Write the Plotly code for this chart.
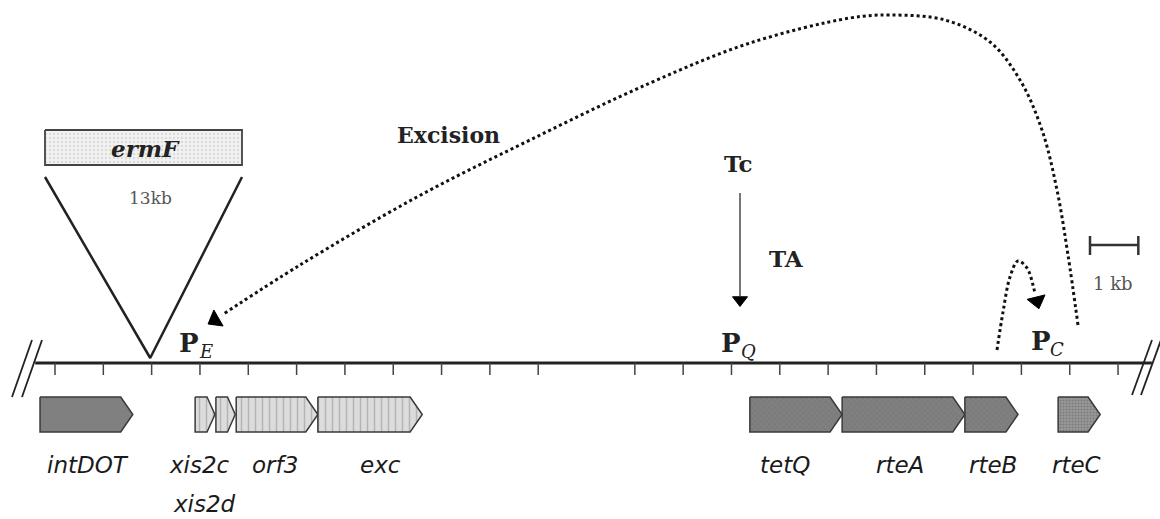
import plotly.graph_objects as go

# ---------------- data (kb coordinates) ----------------
gene_names = ["intDOT", "xis2c", "xis2d", "orf3", "exc", "tetQ", "rteA", "rteB", "rteC"]
gene_start = [-0.31, 2.90, 3.33, 3.75, 5.44, 14.38, 16.29, 18.83, 20.76]
gene_end = [1.61, 3.31, 3.73, 5.44, 7.60, 16.29, 18.83, 19.93, 21.63]
gene_style = ["solid", "striped", "striped", "striped", "striped", "hatched", "hatched", "hatched", "dotted"]
label_x = [0.68, 3.00, 3.10, 4.55, 6.73, 15.10, 17.49, 19.41, 21.15]
label_row = [0, 0, 1, 0, 0, 0, 0, 0, 0]

tick_kb = [i for i in range(23) if i != 11]
map_start_kb, map_end_kb = -0.41, 22.70
insertion_kb = 1.97
promoter_names = ["E", "Q", "C"]
promoter_kb = [3.02, 14.24, 20.65]
scale_bar_kb = 1.0

# ---------------- helpers ----------------
KB_PX = 48.32
X0_PX = 55.0


def kb(px):
    return (px - X0_PX) / KB_PX


BASE_Y = 363
GENE_TOP, GENE_BOT = 397, 432
GENE_MID = (GENE_TOP + GENE_BOT) / 2
DARK = "#222222"
SERIF = "DejaVu Serif"
SANS = "DejaVu Sans"

fig = go.Figure()

# gene arrows
styles = {
    "solid": dict(fillcolor="#808080", fillpattern=None),
    "striped": dict(fillcolor="#d9d9d9",
                    fillpattern=dict(shape="|", bgcolor="#dcdcdc", fgcolor="#8c8c8c", size=7, solidity=0.22)),
    "hatched": dict(fillcolor="#7e7e7e",
                    fillpattern=dict(shape="x", bgcolor="#808080", fgcolor="#6c6c6c", size=4, solidity=0.3)),
    "dotted": dict(fillcolor="#929292",
                   fillpattern=dict(shape=".", bgcolor="#999999", fgcolor="#5e5e5e", size=3, solidity=0.4)),
}
for name, s, e, st in zip(gene_names, gene_start, gene_end, gene_style):
    h = min(0.25, 0.4 * (e - s))
    xs = [s, e - h, e, e - h, s, s]
    ys = [GENE_TOP, GENE_TOP, GENE_MID, GENE_BOT, GENE_BOT, GENE_TOP]
    kw = dict(x=xs, y=ys, mode="lines", fill="toself", fillcolor=styles[st]["fillcolor"],
              line=dict(color="#3a3a3a", width=1.5), hoverinfo="text", text=name, showlegend=False)
    if styles[st]["fillpattern"]:
        kw["fillpattern"] = styles[st]["fillpattern"]
    fig.add_trace(go.Scatter(**kw))

# baseline
fig.add_trace(go.Scatter(x=[map_start_kb, map_end_kb], y=[BASE_Y, BASE_Y], mode="lines",
                         line=dict(color=DARK, width=2.8), showlegend=False, hoverinfo="skip"))
# ticks
tx, ty = [], []
for t in tick_kb:
    tx += [t, t, None]
    ty += [BASE_Y, BASE_Y + 12, None]
fig.add_trace(go.Scatter(x=tx, y=ty, mode="lines", line=dict(color="#444", width=1.5),
                         showlegend=False, hoverinfo="skip"))

# break marks
bx, by = [], []
for (x1, y1, x2, y2) in [(32, 340, 12, 397), (42, 340, 22, 397),
                         (1152, 340, 1132, 395), (1161, 340, 1141, 395)]:
    bx += [kb(x1), kb(x2), None]
    by += [y1, y2, None]
fig.add_trace(go.Scatter(x=bx, y=by, mode="lines", line=dict(color=DARK, width=1.8),
                         showlegend=False, hoverinfo="skip"))

# ermF insertion V
fig.add_trace(go.Scatter(x=[kb(45), insertion_kb, kb(242)], y=[177, 358, 177], mode="lines",
                         line=dict(color=DARK, width=2.5), showlegend=False, hoverinfo="skip"))
# ermF box
bx0, bx1 = kb(45), kb(242)
fig.add_trace(go.Scatter(x=[bx0, bx1, bx1, bx0, bx0], y=[130, 130, 165, 165, 130], mode="lines",
                         fill="toself", fillcolor="#efefef",
                         fillpattern=dict(shape=".", bgcolor="#f2f2f2", fgcolor="#c4c4c4", size=4, solidity=0.3),
                         line=dict(color="#444", width=1.8), showlegend=False, hoverinfo="skip"))

# excision dotted curve
exc_px = [(1078, 325), (1068, 255), (1057, 190), (1042, 130), (1020, 80), (990, 42), (945, 20),
          (890, 15), (850, 18), (750, 43), (650, 83), (530, 140), (417, 197), (300, 265), (222, 315)]
fig.add_trace(go.Scatter(x=[kb(p[0]) for p in exc_px], y=[p[1] for p in exc_px], mode="lines",
                         line=dict(color="#111", width=3, dash="3px,3px", shape="spline", smoothing=1),
                         showlegend=False, hoverinfo="skip"))
# small rteC loop
loop_px = [(997, 350), (1003, 312), (1010, 277), (1018, 261), (1027, 268), (1033, 285), (1035, 294)]
fig.add_trace(go.Scatter(x=[kb(p[0]) for p in loop_px], y=[p[1] for p in loop_px], mode="lines",
                         line=dict(color="#111", width=3, dash="3px,3px", shape="spline", smoothing=1),
                         showlegend=False, hoverinfo="skip"))

# Tc -> PQ arrow shaft
fig.add_trace(go.Scatter(x=[kb(740), kb(740)], y=[193, 296], mode="lines",
                         line=dict(color="#555", width=1.6), showlegend=False, hoverinfo="skip"))

# arrowheads (triangles rotated along direction)
head_px = [(215, 320), (1037, 301), (740, 300)]
head_angle = [240, 166, 180]
fig.add_trace(go.Scatter(x=[kb(p[0]) for p in head_px], y=[p[1] for p in head_px], mode="markers",
                         marker=dict(symbol="triangle-up", size=[16, 16, 13], angle=head_angle,
                                     color="#000000", opacity=1, line=dict(width=1, color="#000000")),
                         showlegend=False, hoverinfo="skip"))

# scale bar
sx0 = kb(1090)
sx1 = sx0 + scale_bar_kb
fig.add_trace(go.Scatter(x=[sx0, sx1, None, sx0, sx0, None, sx1, sx1],
                         y=[245, 245, None, 236, 255, None, 236, 255], mode="lines",
                         line=dict(color="#333", width=2.5), showlegend=False, hoverinfo="skip"))

annotations = []


def txt(x, y, text, size, color=DARK, family=SERIF, xanchor="center"):
    annotations.append(dict(x=x, y=y, xref="x", yref="y", text=text, showarrow=False,
                            font=dict(family=family, size=size, color=color), xanchor=xanchor,
                            yanchor="middle"))


txt(kb(448), 135, "<b>Excision</b>", 22)
txt(kb(145), 148, "<b><i>ermF</i></b>", 23)
txt(kb(150), 198, "13kb", 17, color="#555")
txt(kb(738), 163, "<b>Tc</b>", 23)
txt(kb(786), 258, "<b>TA</b>", 23)
txt(kb(1113), 283, "1 kb", 18, color="#555")

# promoter labels: bold P with italic subscript letter
for pn, px_kb, dy in zip(promoter_names, promoter_kb, [0, 0, -2]):
    txt(px_kb, 343 + dy, "<b>P</b>", 26, xanchor="right")
    txt(px_kb - 0.09, 351 + dy, "<i>" + pn + "</i>", 18, xanchor="left")

for name, lx, row in zip(gene_names, label_x, label_row):
    txt(lx, 465 + 39 * row, "<i>" + name + "</i>", 23, color="#1a1a1a", family=SANS)

fig.update_layout(
    width=1160, height=519, margin=dict(l=0, r=0, t=0, b=0),
    paper_bgcolor="white", plot_bgcolor="white",
    xaxis=dict(range=[kb(0), kb(1160)], visible=False, fixedrange=True),
    yaxis=dict(range=[519, 0], visible=False, fixedrange=True),
    annotations=annotations, showlegend=False,
)
fig.write_html("out.html")
